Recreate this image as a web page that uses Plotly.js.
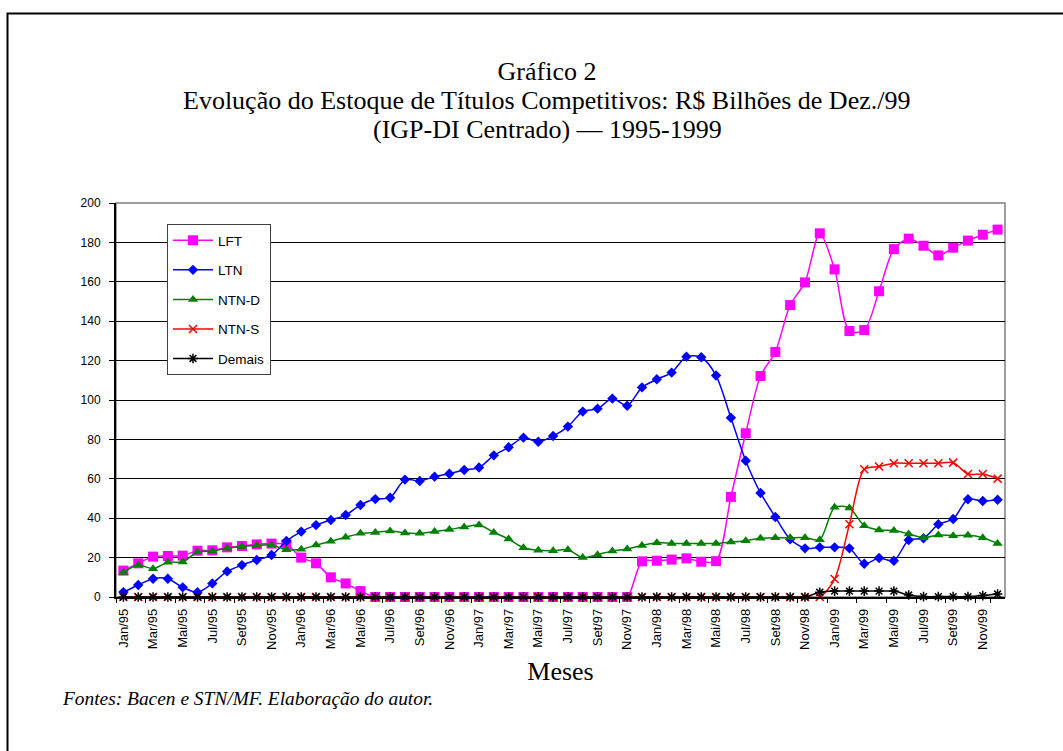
<!DOCTYPE html>
<html>
<head>
<meta charset="utf-8">
<script src="https://cdn.plot.ly/plotly-3.0.1.min.js"></script>
<style>
  html, body { margin: 0; padding: 0; background: #fff; overflow: hidden; }
  #chart { width: 1063px; height: 751px; }
</style>
</head>
<body>
<div id="chart"></div>
<script>
// Months Jan/95 .. Dez/99
const months = [
  "Jan/95","Fev/95","Mar/95","Abr/95","Mai/95","Jun/95","Jul/95","Ago/95","Set/95","Out/95","Nov/95","Dez/95",
  "Jan/96","Fev/96","Mar/96","Abr/96","Mai/96","Jun/96","Jul/96","Ago/96","Set/96","Out/96","Nov/96","Dez/96",
  "Jan/97","Fev/97","Mar/97","Abr/97","Mai/97","Jun/97","Jul/97","Ago/97","Set/97","Out/97","Nov/97","Dez/97",
  "Jan/98","Fev/98","Mar/98","Abr/98","Mai/98","Jun/98","Jul/98","Ago/98","Set/98","Out/98","Nov/98","Dez/98",
  "Jan/99","Fev/99","Mar/99","Abr/99","Mai/99","Jun/99","Jul/99","Ago/99","Set/99","Out/99","Nov/99","Dez/99"
];

const LFT = [
  13.4,17.1,20.5,20.8,21.0,23.5,23.7,25.2,25.9,26.7,27.1,26.7,
  20.0,17.1,10.0,6.9,3.0,0,0,0,0,0,0,0,
  0,0,0,0,0,0,0,0,0,0,0,18.1,
  18.4,19.0,19.6,17.9,18.2,50.8,83.1,112.2,124.4,148.2,159.7,184.6,
  166.3,135.0,135.5,155.2,176.6,181.9,178.3,173.4,177.3,180.9,183.9,186.5
];
const LTN = [
  2.5,6.1,9.3,9.3,4.9,2.4,6.9,13.0,16.2,18.8,21.3,28.4,
  33.2,36.5,39.1,41.6,46.7,49.7,50.4,59.6,58.9,61.1,62.6,64.5,
  65.7,71.9,76.0,80.9,78.8,81.7,86.5,94.1,95.6,100.7,97.1,106.4,
  110.5,113.9,122.0,121.7,112.4,91.0,69.2,52.8,40.6,29.3,24.7,25.2,
  25.2,24.7,16.9,19.8,18.4,28.9,29.8,36.9,39.6,49.6,48.7,49.4
];
const NTND = [
  12.4,16.2,14.4,17.6,17.8,22.8,23.4,24.7,25.6,26.1,26.4,24.0,
  24.2,26.4,28.3,30.3,32.3,32.8,33.5,32.5,32.3,33.2,34.3,35.5,
  36.5,32.8,29.4,25.0,23.7,23.5,24.0,20.0,21.5,23.4,24.4,26.2,
  27.6,27.2,27.2,27.2,27.2,27.9,28.6,29.8,30.1,30.1,30.1,29.1,
  45.5,45.2,36.2,34.0,33.7,32.0,30.1,31.5,31.1,31.3,30.1,27.2
];
const NTNS = [
  0,0,0,0,0,0,0,0,0,0,0,0,
  0,0,0,0,0,0,0,0,0,0,0,0,
  0,0,0,0,0,0,0,0,0,0,0,0,
  0,0,0,0,0,0,0,0,0,0,0,0,
  9.1,36.9,64.8,66.2,67.9,67.9,67.9,67.9,68.2,62.4,62.4,60.1
];
const DEMAIS = [
  0,0,0,0,0,0,0,0,0,0,0,0,
  0,0,0,0,0,0,0,0,0,0,0,0,
  0,0,0,0,0,0,0,0,0,0,0,0,
  0,0,0,0,0,0,0,0,0,0,0,2.4,
  3.0,3.0,3.0,3.0,3.0,1.0,0.2,0.2,0.2,0.2,0.7,1.5
];
const tickMonths = months.filter((m, i) => i % 2 === 0);

const seriesNames = ["LFT","LTN","NTN-D","NTN-S","Demais"];
const seriesData = [LFT, LTN, NTND, NTNS, DEMAIS];
const colors = ["#FF00FF","#0000FF","#008000","#FF0000","#000000"];
const symbols = ["square","diamond","triangle-up","x-thin-open","asterisk-open"];
const sizes = [10, 8, 9, 8, 8];

const titleLines = [
  "Gráfico 2",
  "Evolução do Estoque de Títulos Competitivos: R$ Bilhões de Dez./99",
  "(IGP-DI Centrado) — 1995-1999"
];

const traces = seriesData.map((d, k) => ({
  type: "scatter",
  mode: "lines+markers",
  name: seriesNames[k],
  legendgroup: seriesNames[k],
  x: months,
  y: d,
  line: { color: colors[k], width: 1.5, shape: "spline", smoothing: 0.8 },
  marker: {
    symbol: symbols[k],
    size: sizes[k],
    color: colors[k],
    line: { color: colors[k], width: (k >= 3 ? 1.5 : 0) }
  },
  cliponaxis: false
}));

const L = 116, R = 1005, T = 203, B = 597;
const pw = R - L, ph = B - T;
const px = v => (v - L) / pw;
const py = v => (B - v) / ph;
const serif = "Times New Roman";
const sans = "Arial";
const tsize = 26;

const layout = {
  width: 1063,
  height: 751,
  margin: { l: L, r: 1063 - R, t: T, b: 751 - B, pad: 0 },
  paper_bgcolor: "#ffffff",
  plot_bgcolor: "#ffffff",
  showlegend: true,
  title: {
    text: titleLines[0],
    font: { family: serif, size: tsize, color: "#000" },
    xref: "paper", x: px(547), xanchor: "center",
    yref: "container", y: 1 - 71 / 751, yanchor: "middle"
  },
  xaxis: {
    type: "category",
    range: [-0.5, 59.5],
    tickmode: "array",
    tickvals: tickMonths,
    ticktext: tickMonths,
    tickangle: -90,
    tickson: "boundaries",
    ticks: "outside",
    ticklen: 4,
    tickcolor: "#000",
    tickfont: { family: sans, size: 13, color: "#000" },
    ticklabelstandoff: 5,
    showline: true,
    linecolor: "#000",
    linewidth: 1.5,
    showgrid: false,
    zeroline: false,
    fixedrange: true,
    title: {
      text: "Meses",
      font: { family: serif, size: 26, color: "#000" },
      standoff: 13
    }
  },
  yaxis: {
    range: [0, 200],
    dtick: 20,
    tick0: 0,
    ticks: "outside",
    ticklen: 5,
    tickcolor: "#000",
    tickfont: { family: sans, size: 12, color: "#000" },
    showline: true,
    linecolor: "#000",
    linewidth: 2,
    showgrid: true,
    gridcolor: "#000",
    gridwidth: 1,
    zeroline: false,
    fixedrange: true,
    ticklabelstandoff: 6
  },
  legend: {
    x: px(167), xanchor: "left",
    y: py(224), yanchor: "top",
    bgcolor: "#ffffff",
    bordercolor: "#404040",
    borderwidth: 1,
    font: { family: sans, size: 13.5, color: "#000" },
    tracegroupgap: 9,
    itemwidth: 40
  },
  shapes: [
    { type: "rect", xref: "paper", yref: "paper", x0: 0, x1: 1, y0: 0, y1: 1,
      line: { color: "#808080", width: 1.5 }, fillcolor: "rgba(0,0,0,0)", layer: "below" },
    { type: "rect", xref: "paper", yref: "paper", x0: px(7.5), x1: px(1075), y0: py(13.5), y1: py(770),
      line: { color: "#000", width: 2 }, fillcolor: "rgba(0,0,0,0)" }
  ],
  annotations: [
    { text: titleLines[1], xref: "paper", yref: "paper", x: px(546), y: py(100.5),
      xanchor: "center", yanchor: "middle", showarrow: false,
      font: { family: serif, size: tsize, color: "#000" } },
    { text: titleLines[2], xref: "paper", yref: "paper", x: px(547), y: py(129.5),
      xanchor: "center", yanchor: "middle", showarrow: false,
      font: { family: serif, size: tsize, color: "#000" } },
    { text: "<i>Fontes: Bacen e STN/MF. Elaboração do autor.</i>",
      xref: "paper", yref: "paper", x: px(60), y: py(698), xanchor: "left", yanchor: "middle",
      showarrow: false,
      font: { family: serif, size: 19.4, color: "#000" } }
  ]
};

Plotly.newPlot("chart", traces, layout, { staticPlot: true, displayModeBar: false });
</script>
</body>
</html>
